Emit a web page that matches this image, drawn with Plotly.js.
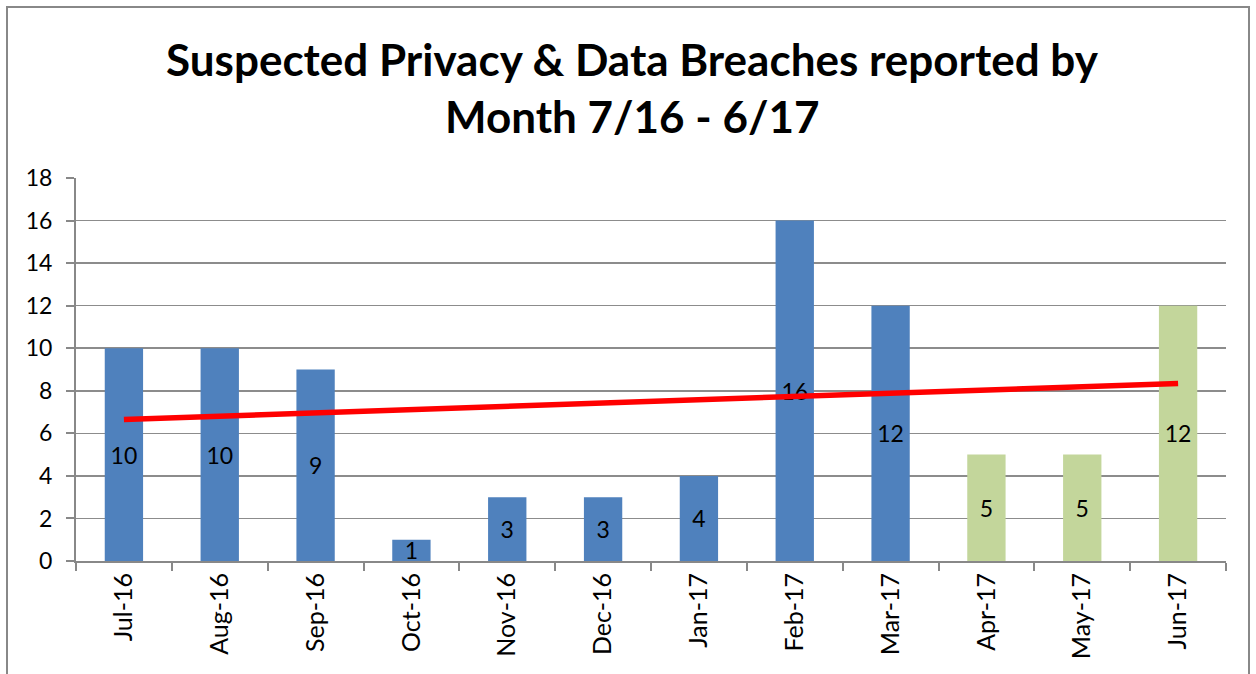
<!DOCTYPE html>
<html><head><meta charset="utf-8">
<script src="https://cdn.plot.ly/plotly-3.0.1.min.js"></script>
<style>body{margin:0;background:#fff}#wrap{position:relative;width:1256px;height:674px;overflow:hidden}
#border{position:absolute;left:6px;top:6px;width:1244px;height:700px;border:2px solid #888;pointer-events:none;box-sizing:border-box}</style>
</head><body><div id="wrap"><div id="chart" style="width:1256px;height:674px"></div><div id="border"></div></div>
<script>
const months = ["Jul-16","Aug-16","Sep-16","Oct-16","Nov-16","Dec-16","Jan-17","Feb-17","Mar-17","Apr-17","May-17","Jun-17"];
const breaches = [10,10,9,1,3,3,4,16,12,5,5,12];
const barColors = ["#4F81BD","#4F81BD","#4F81BD","#4F81BD","#4F81BD","#4F81BD","#4F81BD","#4F81BD","#4F81BD","#C3D69B","#C3D69B","#C3D69B"];
const yTicks = [0,2,4,6,8,10,12,14,16,18];
const titleLines = ["Suspected Privacy & Data Breaches reported by", "Month 7/16 - 6/17"];

// linear trendline (least squares) from the data
const n = breaches.length;
const xs = breaches.map((_, i) => i + 1);
const mx = xs.reduce((a,b)=>a+b,0)/n, my = breaches.reduce((a,b)=>a+b,0)/n;
let sxy = 0, sxx = 0;
xs.forEach((x,i)=>{ sxy += (x-mx)*(breaches[i]-my); sxx += (x-mx)*(x-mx); });
const slope = sxy/sxx, icpt = my - slope*mx;
const trend = [icpt + slope*xs[0], icpt + slope*xs[n-1]];

const font = "Lato, 'Open Sans', sans-serif";
Plotly.newPlot("chart", [
  {type:"bar", x:months, y:breaches, marker:{color:barColors}, width:0.4,
   text:breaches.map(String), textposition:"inside", insidetextanchor:"middle", textangle:0,
   textfont:{family:font, size:23, color:"#000"}, constraintext:"none", hoverinfo:"x+y"},
  {type:"scatter", mode:"lines", x:[months[0], months[n-1]], y:trend,
   line:{color:"#FF0000", width:5.5}, hoverinfo:"skip"}
], {
  width:1256, height:674, showlegend:false,
  margin:{l:76, r:30, t:178, b:113},
  paper_bgcolor:"#fff", plot_bgcolor:"#fff",
  annotations:[
    {text:"<b>"+titleLines[0]+"</b>", xref:"paper", yref:"paper", x:0.484, y:1, xanchor:"center", yanchor:"middle", yshift:119, showarrow:false,
     font:{family:font, size:44, color:"#000"}},
    {text:"<b>"+titleLines[1]+"</b>", xref:"paper", yref:"paper", x:0.484, y:1, xanchor:"center", yanchor:"middle", yshift:62, showarrow:false,
     font:{family:font, size:44, color:"#000"}}
  ],
  xaxis:{type:"category", tickangle:-90, tickson:"boundaries", ticks:"outside", ticklen:8, tickwidth:2, tickcolor:"#888",
         showline:true, linecolor:"#888", linewidth:2, showgrid:false,
         tickfont:{family:font, size:25, color:"#000"}},
  yaxis:{range:[0,18], tickvals:yTicks, ticks:"outside", ticklen:8, tickwidth:2, tickcolor:"#888",
         showline:true, linecolor:"#888", linewidth:2, showgrid:true, gridcolor:"#8c8c8c", gridwidth:1.5,
         zeroline:false, ticklabelstandoff:9, tickfont:{family:font, size:23, color:"#000"}}
}, {displayModeBar:false, staticPlot:true});
</script></body></html>
